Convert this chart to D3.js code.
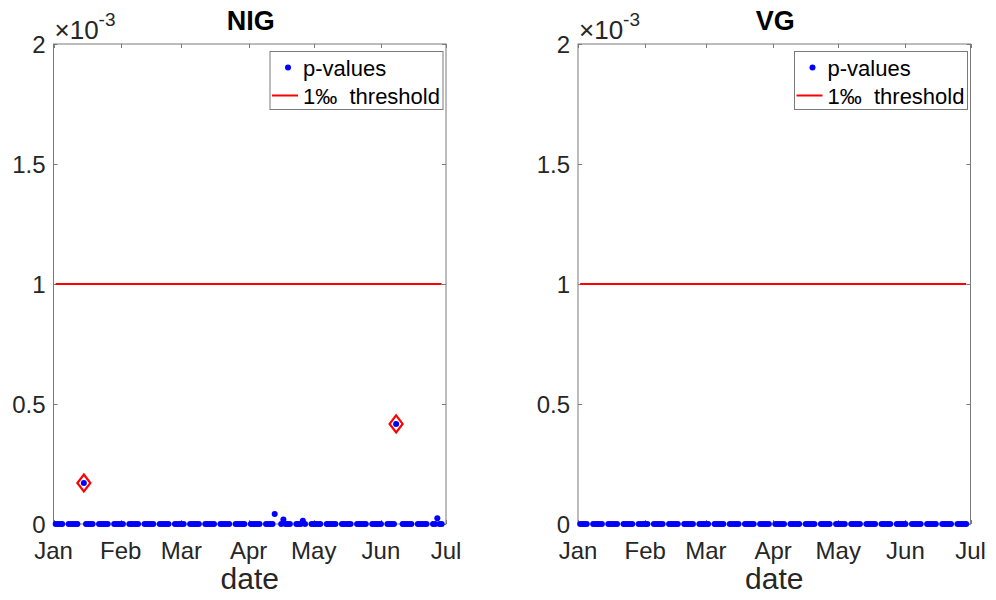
<!DOCTYPE html>
<html>
<head>
<meta charset="utf-8">
<script src="https://cdn.jsdelivr.net/npm/d3@7"></script>
<style>
  body { margin: 0; background: #fff; }
  text { font-family: "Liberation Sans", Arial, sans-serif; fill: #262626; }
</style>
</head>
<body>
<svg id="chart" width="996" height="600"></svg>
<script>
// ---- data ----
const tradingDays = [
  "2018-01-02","2018-01-03","2018-01-04","2018-01-05",
  "2018-01-08","2018-01-09","2018-01-10","2018-01-11","2018-01-12",
  "2018-01-15","2018-01-16","2018-01-17","2018-01-18","2018-01-19",
  "2018-01-22","2018-01-23","2018-01-24","2018-01-25","2018-01-26",
  "2018-01-29","2018-01-30","2018-01-31","2018-02-01","2018-02-02",
  "2018-02-05","2018-02-06","2018-02-07","2018-02-08","2018-02-09",
  "2018-02-12","2018-02-13","2018-02-14","2018-02-15","2018-02-16",
  "2018-02-19","2018-02-20","2018-02-21","2018-02-22","2018-02-23",
  "2018-02-26","2018-02-27","2018-02-28","2018-03-01","2018-03-02",
  "2018-03-05","2018-03-06","2018-03-07","2018-03-08","2018-03-09",
  "2018-03-12","2018-03-13","2018-03-14","2018-03-15","2018-03-16",
  "2018-03-19","2018-03-20","2018-03-21","2018-03-22","2018-03-23",
  "2018-03-26","2018-03-27","2018-03-28","2018-03-29","2018-03-30",
  "2018-04-02","2018-04-03","2018-04-04","2018-04-05","2018-04-06",
  "2018-04-09","2018-04-10","2018-04-11","2018-04-12","2018-04-13",
  "2018-04-16","2018-04-17","2018-04-18","2018-04-19","2018-04-20",
  "2018-04-23","2018-04-24","2018-04-25","2018-04-26","2018-04-27",
  "2018-04-30","2018-05-01","2018-05-02","2018-05-03","2018-05-04",
  "2018-05-07","2018-05-08","2018-05-09","2018-05-10","2018-05-11",
  "2018-05-14","2018-05-15","2018-05-16","2018-05-17","2018-05-18",
  "2018-05-21","2018-05-22","2018-05-23","2018-05-24","2018-05-25",
  "2018-05-28","2018-05-29","2018-05-30","2018-05-31","2018-06-01",
  "2018-06-04","2018-06-05","2018-06-06","2018-06-07","2018-06-08",
  "2018-06-11","2018-06-12","2018-06-13","2018-06-14","2018-06-15",
  "2018-06-18","2018-06-19","2018-06-20","2018-06-21","2018-06-22",
  "2018-06-25","2018-06-26","2018-06-27","2018-06-28","2018-06-29"
];
// p-values that are not (visibly) zero; all other days read as 0
const nigNonzeroDates  = ["2018-01-15","2018-04-13","2018-04-17","2018-04-26","2018-06-08","2018-06-27"];
const nigNonzeroValues = [0.000171, 0.000042, 0.000019, 0.000014, 0.000417, 0.000024];
const nigFlaggedDates  = ["2018-01-15","2018-06-08"];
const vgNonzeroDates   = [];
const vgNonzeroValues  = [];
const vgFlaggedDates   = [];
const threshold = 0.001;
const yTicks = [0, 0.0005, 0.001, 0.0015, 0.002];
const yTickLabels = ["0", "0.5", "1", "1.5", "2"];
const monthTicks = ["2018-01-01","2018-02-01","2018-03-01","2018-04-01","2018-05-01","2018-06-01","2018-07-01"];
const monthLabels = ["Jan","Feb","Mar","Apr","May","Jun","Jul"];
const panelTitles = ["NIG", "VG"];

// ---- drawing ----
const parse = d3.timeParse("%Y-%m-%d");
const svg = d3.select("#chart");
const yTop = 44, yBottom = 524;
const tickFont = 24;
const panels = [
  { title: panelTitles[0], left: 53.5, right: 446, nzD: nigNonzeroDates, nzV: nigNonzeroValues, flag: nigFlaggedDates },
  { title: panelTitles[1], left: 578, right: 970.5, nzD: vgNonzeroDates, nzV: vgNonzeroValues, flag: vgFlaggedDates }
];

panels.forEach(p => {
  const g = svg.append("g");
  const x = d3.scaleTime().domain([parse(monthTicks[0]), parse(monthTicks[monthTicks.length-1])]).range([p.left, p.right]);
  const y = d3.scaleLinear().domain([0, 0.002]).range([yBottom, yTop]);
  const data = tradingDays.map(d => {
    const i = p.nzD.indexOf(d);
    return { date: parse(d), v: i >= 0 ? p.nzV[i] : 0, key: d };
  });

  g.append("rect").attr("x", p.left).attr("y", yTop)
    .attr("width", p.right - p.left).attr("height", yBottom - yTop)
    .attr("fill", "#fff").attr("stroke", "#7a7a7a").attr("stroke-width", 1);

  monthTicks.forEach((t, i) => {
    const xx = Math.round(x(parse(t))) + 0.5;
    g.append("line").attr("x1", xx).attr("x2", xx).attr("y1", yBottom).attr("y2", yBottom - 4).attr("stroke", "#7a7a7a");
    g.append("line").attr("x1", xx).attr("x2", xx).attr("y1", yTop).attr("y2", yTop + 4).attr("stroke", "#7a7a7a");
    g.append("text").attr("x", x(parse(t))).attr("y", 559).attr("text-anchor", "middle")
      .attr("font-size", tickFont).text(monthLabels[i]);
  });
  yTicks.forEach((t, i) => {
    const yy = Math.round(y(t)) + 0.5;
    g.append("line").attr("x1", p.left).attr("x2", p.left + 4).attr("y1", yy).attr("y2", yy).attr("stroke", "#7a7a7a");
    g.append("line").attr("x1", p.right).attr("x2", p.right - 4).attr("y1", yy).attr("y2", yy).attr("stroke", "#7a7a7a");
    g.append("text").attr("x", p.left - 8).attr("y", y(t) + 8.5).attr("text-anchor", "end")
      .attr("font-size", tickFont).text(yTickLabels[i]);
  });
  const ex = g.append("text").attr("x", p.left + 1).attr("y", 39).attr("font-size", 26);
  ex.append("tspan").text("\u00d710");
  ex.append("tspan").attr("dy", -13).attr("font-size", 19).text("-3");

  g.append("text").attr("x", (p.left + p.right) / 2 + 1).attr("y", 30).attr("text-anchor", "middle")
    .attr("font-size", 27).attr("font-weight", "bold").style("fill", "#000").text(p.title);
  g.append("text").attr("x", (p.left + p.right) / 2).attr("y", 589).attr("text-anchor", "middle")
    .attr("font-size", 30).text("date");

  const first = data[0].date, last = data[data.length - 1].date;
  g.append("line").attr("x1", x(first)).attr("x2", x(last)).attr("y1", y(threshold)).attr("y2", y(threshold))
    .attr("stroke", "#ff0000").attr("stroke-width", 2);

  g.selectAll("circle.pt").data(data).enter().append("circle").attr("class", "pt")
    .attr("cx", d => x(d.date)).attr("cy", d => y(d.v)).attr("r", 3).attr("fill", "#0000ff");

  const flagged = data.filter(d => p.flag.includes(d.key));
  g.selectAll("path.flag").data(flagged).enter().append("path").attr("class", "flag")
    .attr("d", d => {
      const cx = x(d.date), cy = y(d.v), w = 6.5, h = 8.5;
      return `M${cx},${cy - h}L${cx + w},${cy}L${cx},${cy + h}L${cx - w},${cy}Z`;
    })
    .attr("fill", "none").attr("stroke", "#ff0000").attr("stroke-width", 2.2);

  const lx = p.right - 176, ly = 51.5;
  g.append("rect").attr("x", lx).attr("y", ly).attr("width", 173).attr("height", 58)
    .attr("fill", "#fff").attr("stroke", "#7a7a7a").attr("stroke-width", 1);
  g.append("circle").attr("cx", lx + 18).attr("cy", ly + 16).attr("r", 3).attr("fill", "#0000ff");
  g.append("text").attr("x", lx + 33).attr("y", ly + 24.5).attr("font-size", 22).style("fill", "#000").text("p-values");
  g.append("line").attr("x1", lx + 2).attr("x2", lx + 28).attr("y1", ly + 44).attr("y2", ly + 44)
    .attr("stroke", "#ff0000").attr("stroke-width", 2);
  g.append("text").attr("x", lx + 33).attr("y", ly + 52.5).attr("font-size", 22).style("fill", "#000")
    .attr("xml:space", "preserve").text("1\u2030  threshold");
});
</script>
</body>
</html>
